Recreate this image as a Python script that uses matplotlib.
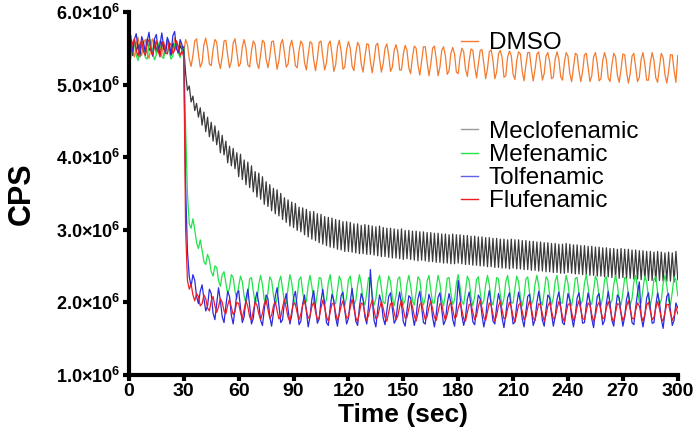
import numpy as np
import matplotlib
matplotlib.use("Agg")
import matplotlib.pyplot as plt
from matplotlib.ticker import FuncFormatter
from matplotlib.lines import Line2D

plt.rcParams['font.family'] = ['Liberation Sans', 'DejaVu Sans']
plt.rcParams['mathtext.fontset'] = 'custom'
plt.rcParams['mathtext.rm'] = 'Liberation Sans:bold'
plt.rcParams['mathtext.bf'] = 'Liberation Sans:bold'

# time axis, one reading per second (0..300 s)
time_sec = np.arange(0, 301)

# CPS readings in millions
dmso = [
    5.52, 5.60, 5.45, 5.38, 5.55, 5.65, 5.48, 5.40, 5.58, 5.62,
    5.44, 5.36, 5.50, 5.63, 5.57, 5.42, 5.47, 5.60, 5.52, 5.39,
    5.46, 5.61, 5.55, 5.41, 5.49, 5.64, 5.53, 5.43, 5.58, 5.50,
    5.45, 5.62, 5.55, 5.35, 5.25, 5.40, 5.60, 5.63, 5.42, 5.24,
    5.30, 5.55, 5.64, 5.50, 5.28, 5.26, 5.48, 5.62, 5.58, 5.33,
    5.22, 5.38, 5.60, 5.61, 5.40, 5.23, 5.32, 5.57, 5.63, 5.45,
    5.25, 5.29, 5.52, 5.62, 5.50, 5.27, 5.24, 5.46, 5.60, 5.55,
    5.30, 5.22, 5.42, 5.61, 5.58, 5.35, 5.23, 5.38, 5.59, 5.60,
    5.40, 5.21, 5.33, 5.56, 5.62, 5.44, 5.24, 5.28, 5.52, 5.61,
    5.48, 5.26, 5.23, 5.47, 5.60, 5.55, 5.30, 5.20, 5.41, 5.59,
    5.57, 5.34, 5.19, 5.36, 5.58, 5.60, 5.38, 5.20, 5.30, 5.55,
    5.60, 5.42, 5.18, 5.27, 5.52, 5.61, 5.46, 5.21, 5.24, 5.48,
    5.59, 5.50, 5.25, 5.19, 5.43, 5.58, 5.53, 5.28, 5.17, 5.38,
    5.56, 5.55, 5.32, 5.16, 5.33, 5.54, 5.57, 5.36, 5.17, 5.29,
    5.50, 5.56, 5.40, 5.18, 5.24, 5.47, 5.55, 5.44, 5.20, 5.20,
    5.42, 5.54, 5.47, 5.23, 5.15, 5.38, 5.53, 5.50, 5.27, 5.13,
    5.33, 5.52, 5.52, 5.31, 5.12, 5.28, 5.50, 5.53, 5.35, 5.12,
    5.24, 5.47, 5.52, 5.39, 5.14, 5.19, 5.43, 5.51, 5.42, 5.17,
    5.15, 5.38, 5.50, 5.45, 5.21, 5.11, 5.33, 5.49, 5.47, 5.25,
    5.09, 5.28, 5.47, 5.48, 5.29, 5.08, 5.22, 5.45, 5.48, 5.33,
    5.08, 5.17, 5.42, 5.47, 5.37, 5.10, 5.12, 5.38, 5.46, 5.40,
    5.14, 5.07, 5.33, 5.45, 5.42, 5.18, 5.05, 5.27, 5.44, 5.44,
    5.22, 5.05, 5.21, 5.42, 5.45, 5.27, 5.06, 5.15, 5.39, 5.44,
    5.31, 5.08, 5.10, 5.35, 5.45, 5.35, 5.11, 5.06, 5.30, 5.44,
    5.39, 5.15, 5.04, 5.24, 5.43, 5.41, 5.19, 5.04, 5.18, 5.41,
    5.43, 5.24, 5.04, 5.12, 5.38, 5.44, 5.29, 5.05, 5.08, 5.33,
    5.44, 5.34, 5.09, 5.04, 5.27, 5.43, 5.38, 5.13, 5.03, 5.21,
    5.42, 5.41, 5.18, 5.02, 5.15, 5.39, 5.43, 5.23, 5.04, 5.10,
    5.35, 5.44, 5.28, 5.06, 5.06, 5.30, 5.44, 5.33, 5.09, 5.03,
    5.24, 5.43, 5.37, 5.14, 5.02, 5.18, 5.41, 5.41, 5.19, 5.03,
    5.40,
]

meclofenamic = [
    5.48, 5.58, 5.40, 5.62, 5.45, 5.55, 5.38, 5.60, 5.50, 5.42,
    5.63, 5.47, 5.52, 5.39, 5.61, 5.46, 5.56, 5.41, 5.59, 5.49,
    5.44, 5.62, 5.50, 5.40, 5.57, 5.48, 5.60, 5.43, 5.54, 5.47,
    5.52, 5.15, 4.92, 4.98, 4.76, 4.84, 4.64, 4.74, 4.55, 4.68,
    4.44, 4.62, 4.35, 4.55, 4.28, 4.48, 4.22, 4.43, 4.17, 4.36,
    4.06, 4.30, 4.03, 4.22, 3.92, 4.15, 3.88, 4.12, 3.84, 4.06,
    3.73, 4.04, 3.69, 3.96, 3.62, 3.93, 3.58, 3.88, 3.52, 3.80,
    3.45, 3.78, 3.42, 3.73, 3.35, 3.66, 3.32, 3.62, 3.26, 3.57,
    3.22, 3.55, 3.19, 3.50, 3.14, 3.44, 3.10, 3.41, 3.05, 3.38,
    3.03, 3.36, 2.99, 3.31, 2.97, 3.30, 2.93, 3.28, 2.90, 3.25,
    2.87, 3.25, 2.85, 3.22, 2.82, 3.21, 2.80, 3.18, 2.78, 3.17,
    2.76, 3.16, 2.75, 3.14, 2.73, 3.13, 2.72, 3.11, 2.70, 3.11,
    2.70, 3.10, 2.69, 3.08, 2.68, 3.08, 2.67, 3.06, 2.67, 3.07,
    2.66, 3.06, 2.66, 3.05, 2.65, 3.04, 2.64, 3.05, 2.63, 3.03,
    2.63, 3.02, 2.62, 3.02, 2.61, 3.01, 2.61, 3.00, 2.60, 3.01,
    2.59, 2.99, 2.60, 2.99, 2.59, 2.98, 2.58, 2.98, 2.57, 2.97,
    2.58, 2.97, 2.57, 2.96, 2.56, 2.96, 2.56, 2.95, 2.55, 2.95,
    2.55, 2.94, 2.54, 2.94, 2.54, 2.93, 2.53, 2.94, 2.53, 2.93,
    2.54, 2.93, 2.53, 2.92, 2.52, 2.92, 2.52, 2.91, 2.51, 2.91,
    2.51, 2.90, 2.50, 2.90, 2.50, 2.89, 2.49, 2.89, 2.49, 2.88,
    2.48, 2.88, 2.48, 2.87, 2.47, 2.87, 2.47, 2.86, 2.46, 2.87,
    2.47, 2.86, 2.46, 2.86, 2.46, 2.85, 2.45, 2.85, 2.45, 2.84,
    2.44, 2.84, 2.44, 2.83, 2.43, 2.83, 2.43, 2.82, 2.42, 2.82,
    2.42, 2.81, 2.41, 2.81, 2.41, 2.80, 2.40, 2.80, 2.40, 2.81,
    2.41, 2.80, 2.40, 2.79, 2.39, 2.79, 2.39, 2.78, 2.38, 2.78,
    2.38, 2.77, 2.37, 2.77, 2.37, 2.76, 2.36, 2.76, 2.36, 2.75,
    2.35, 2.75, 2.35, 2.74, 2.34, 2.74, 2.34, 2.73, 2.33, 2.74,
    2.34, 2.73, 2.33, 2.73, 2.33, 2.72, 2.32, 2.72, 2.32, 2.71,
    2.31, 2.71, 2.31, 2.70, 2.30, 2.70, 2.30, 2.69, 2.29, 2.70,
    2.30, 2.69, 2.29, 2.68, 2.29, 2.69, 2.29, 2.68, 2.28, 2.70,
    2.31,
]

mefenamic = [
    5.42, 5.36, 5.50, 5.58, 5.40, 5.33, 5.47, 5.60, 5.52, 5.37,
    5.35, 5.55, 5.62, 5.44, 5.34, 5.41, 5.57, 5.53, 5.38, 5.36,
    5.52, 5.61, 5.45, 5.35, 5.39, 5.56, 5.58, 5.43, 5.37, 5.48,
    5.50, 4.40, 3.50, 3.08, 3.02, 3.15, 3.00, 2.82, 2.74, 2.86,
    2.72, 2.56, 2.52, 2.66, 2.58, 2.42, 2.36, 2.50, 2.48, 2.30,
    2.22, 2.38, 2.42, 2.26, 2.12, 2.20, 2.38, 2.34, 2.15, 2.05,
    2.22, 2.36, 2.28, 2.08, 1.98, 2.10, 2.32, 2.34, 2.15, 1.99,
    2.02, 2.25, 2.37, 2.24, 2.03, 1.97, 2.14, 2.35, 2.30, 2.10,
    1.96, 2.05, 2.28, 2.36, 2.18, 2.00, 1.98, 2.20, 2.38, 2.27,
    2.06, 1.95, 2.08, 2.31, 2.35, 2.14, 1.98, 2.01, 2.24, 2.37,
    2.22, 2.02, 1.96, 2.12, 2.34, 2.33, 2.11, 1.97, 2.04, 2.27,
    2.38, 2.19, 1.99, 1.98, 2.17, 2.36, 2.29, 2.07, 1.95, 2.08,
    2.31, 2.36, 2.15, 1.97, 2.02, 2.23, 2.38, 2.25, 2.03, 1.96,
    2.13, 2.34, 2.32, 2.10, 1.96, 2.05, 2.28, 2.37, 2.20, 2.00,
    1.98, 2.18, 2.36, 2.28, 2.06, 1.95, 2.09, 2.32, 2.35, 2.13,
    1.97, 2.03, 2.25, 2.37, 2.23, 2.02, 1.96, 2.14, 2.35, 2.31,
    2.09, 1.96, 2.06, 2.29, 2.37, 2.17, 1.99, 1.99, 2.20, 2.37,
    2.26, 2.04, 1.95, 2.11, 2.33, 2.34, 2.12, 1.97, 2.03, 2.26,
    2.38, 2.21, 2.01, 1.97, 2.16, 2.36, 2.29, 2.07, 1.95, 2.08,
    2.31, 2.35, 2.14, 1.97, 2.02, 2.24, 2.37, 2.24, 2.02, 1.96,
    2.13, 2.34, 2.32, 2.10, 1.96, 2.05, 2.28, 2.37, 2.19, 1.99,
    1.99, 2.19, 2.36, 2.28, 2.06, 1.95, 2.09, 2.32, 2.35, 2.13,
    1.97, 2.03, 2.25, 2.37, 2.23, 2.02, 1.96, 2.14, 2.35, 2.31,
    2.09, 1.96, 2.06, 2.29, 2.37, 2.17, 1.99, 1.99, 2.20, 2.37,
    2.26, 2.04, 1.95, 2.11, 2.33, 2.34, 2.12, 1.97, 2.03, 2.26,
    2.38, 2.21, 2.01, 1.97, 2.16, 2.36, 2.29, 2.07, 1.95, 2.08,
    2.31, 2.35, 2.14, 1.97, 2.02, 2.24, 2.37, 2.24, 2.02, 1.96,
    2.13, 2.34, 2.32, 2.10, 1.96, 2.05, 2.28, 2.37, 2.19, 1.99,
    1.99, 2.19, 2.36, 2.28, 2.06, 1.95, 2.09, 2.32, 2.35, 2.13,
    1.97, 2.03, 2.25, 2.37, 2.23, 2.02, 1.96, 2.14, 2.35, 2.31,
    2.09,
]

tolfenamic = [
    5.55, 5.68, 5.45, 5.62, 5.70, 5.50, 5.42, 5.66, 5.58, 5.44,
    5.60, 5.72, 5.48, 5.40, 5.63, 5.69, 5.46, 5.55, 5.71, 5.52,
    5.43, 5.65, 5.58, 5.41, 5.67, 5.73, 5.49, 5.44, 5.62, 5.55,
    5.45, 3.60, 2.70, 2.35, 2.22, 2.38, 2.30, 2.08, 1.98, 2.15,
    2.24, 2.05, 1.88, 1.95, 2.18, 2.12, 1.85, 1.76, 1.98, 2.20,
    2.02, 1.80, 1.72, 1.95, 2.15, 2.08, 1.82, 1.70, 1.90, 2.12,
    2.16, 1.92, 1.72, 1.80, 2.05, 2.18, 1.95, 1.70, 1.78, 2.02,
    2.14, 1.98, 1.75, 1.68, 1.90, 2.10, 2.05, 1.80, 1.67, 1.85,
    2.08, 2.20, 1.96, 1.72, 1.76, 2.00, 2.12, 1.90, 1.70, 1.82,
    2.06, 2.15, 1.93, 1.69, 1.74, 1.98, 2.10, 1.88, 1.66, 1.80,
    2.04, 2.16, 1.94, 1.71, 1.77, 2.02, 2.18, 1.97, 1.72, 1.68,
    1.92, 2.11, 2.03, 1.79, 1.67, 1.86, 2.09, 2.14, 1.89, 1.70,
    1.78, 2.01, 2.19, 1.99, 1.74, 1.68, 1.93, 2.12, 2.04, 1.80,
    1.70, 1.95, 2.45, 2.05, 1.75, 1.66, 1.90, 2.10, 2.00, 1.78,
    1.69, 1.88, 2.08, 2.13, 1.91, 1.71, 1.76, 1.99, 2.14, 1.97,
    1.73, 1.67, 1.89, 2.09, 2.06, 1.83, 1.68, 1.81, 2.05, 2.15,
    1.94, 1.72, 1.70, 1.93, 2.11, 2.02, 1.79, 1.66, 1.84, 2.07,
    2.13, 1.90, 1.69, 1.75, 1.98, 2.12, 1.99, 1.76, 1.67, 1.92,
    2.30, 2.08, 1.81, 1.68, 1.80, 2.04, 2.14, 1.95, 1.73, 1.69,
    1.91, 2.10, 2.05, 1.82, 1.66, 1.79, 2.03, 2.16, 1.96, 1.74,
    1.70, 1.94, 2.12, 2.01, 1.78, 1.65, 1.83, 2.06, 2.13, 1.91,
    1.70, 1.73, 1.97, 2.14, 2.00, 1.77, 1.66, 1.87, 2.08, 2.11,
    1.88, 1.68, 1.76, 2.00, 2.15, 1.98, 1.75, 1.67, 1.90, 2.10,
    2.06, 1.84, 1.67, 1.80, 2.04, 2.14, 1.94, 1.72, 1.69, 1.93,
    2.12, 2.03, 1.80, 1.66, 1.82, 2.06, 2.13, 1.92, 1.71, 1.72,
    1.96, 2.13, 2.00, 1.77, 1.65, 1.86, 2.08, 2.12, 1.89, 1.69,
    1.75, 1.99, 2.15, 1.98, 1.75, 1.67, 1.90, 2.10, 2.06, 1.84,
    1.67, 1.80, 2.04, 2.14, 1.94, 1.72, 1.69, 1.93, 2.12, 2.28,
    1.80, 1.66, 1.82, 2.06, 2.13, 1.92, 1.71, 1.72, 1.96, 2.13,
    2.00, 1.77, 1.64, 1.86, 2.08, 2.12, 1.89, 1.68, 1.75, 1.99,
    1.92,
]

flufenamic = [
    5.50, 5.42, 5.58, 5.63, 5.47, 5.39, 5.55, 5.61, 5.45, 5.40,
    5.57, 5.62, 5.48, 5.41, 5.52, 5.60, 5.46, 5.38, 5.56, 5.59,
    5.44, 5.42, 5.58, 5.55, 5.43, 5.47, 5.60, 5.52, 5.40, 5.46,
    5.38, 3.00, 2.30, 2.18, 2.25, 2.10, 2.02, 2.12, 2.08, 1.95,
    1.98, 2.10, 2.05, 1.92, 1.88, 2.02, 2.08, 1.95, 1.86, 1.94,
    2.05, 2.00, 1.88, 1.84, 1.96, 2.04, 1.93, 1.83, 1.88, 2.00,
    1.98, 1.86, 1.78, 1.90, 2.02, 1.94, 1.80, 1.75, 1.88, 2.00,
    1.96, 1.84, 1.76, 1.85, 1.98, 2.03, 1.90, 1.78, 1.82, 1.95,
    2.01, 1.88, 1.77, 1.80, 1.93, 2.04, 1.92, 1.79, 1.74, 1.87,
    1.99, 1.97, 1.85, 1.76, 1.84, 1.96, 2.02, 1.89, 1.78, 1.81,
    1.94, 2.00, 1.87, 1.76, 1.79, 1.92, 2.03, 1.93, 1.80, 1.74,
    1.86, 1.98, 1.98, 1.85, 1.75, 1.83, 1.95, 2.02, 1.90, 1.78,
    1.80, 1.93, 2.04, 1.91, 1.79, 1.73, 1.86, 1.99, 1.97, 1.84,
    1.75, 1.82, 1.95, 2.03, 1.89, 1.77, 1.80, 1.92, 2.01, 1.92,
    1.79, 1.74, 1.86, 1.98, 1.99, 1.86, 1.76, 1.81, 1.94, 2.03,
    1.90, 1.78, 1.79, 1.91, 2.02, 1.94, 1.81, 1.74, 1.85, 1.97,
    1.99, 1.87, 1.76, 1.80, 1.93, 2.02, 1.91, 1.79, 1.75, 1.87,
    1.98, 1.97, 1.85, 1.75, 1.83, 1.95, 2.01, 1.90, 1.78, 1.80,
    1.92, 2.00, 1.89, 1.77, 1.74, 1.86, 1.97, 1.98, 1.86, 1.76,
    1.81, 1.94, 2.02, 1.92, 1.79, 1.75, 1.87, 1.99, 1.96, 1.83,
    1.74, 1.82, 1.95, 2.01, 1.89, 1.77, 1.79, 1.91, 2.00, 1.93,
    1.80, 1.73, 1.84, 1.96, 1.99, 1.87, 1.76, 1.80, 1.93, 2.02,
    1.91, 1.78, 1.75, 1.87, 1.98, 1.96, 1.84, 1.74, 1.82, 1.95,
    2.00, 1.88, 1.77, 1.79, 1.91, 2.01, 1.93, 1.80, 1.73, 1.85,
    1.97, 1.98, 1.86, 1.75, 1.81, 1.94, 2.02, 1.90, 1.78, 1.76,
    1.88, 1.99, 1.96, 1.83, 1.74, 1.82, 1.95, 2.00, 1.88, 1.77,
    1.79, 1.92, 2.01, 1.92, 1.79, 1.73, 1.86, 1.98, 1.97, 1.85,
    1.75, 1.81, 1.94, 2.02, 1.90, 1.78, 1.77, 1.89, 1.99, 1.95,
    1.82, 1.74, 1.83, 1.96, 2.00, 1.88, 1.76, 1.79, 1.92, 2.01,
    1.91, 1.78, 1.74, 1.86, 1.97, 1.97, 1.85, 1.75, 1.81, 1.93,
    1.84,
]

series_names = ['DMSO', 'Meclofenamic', 'Mefenamic', 'Tolfenamic', 'Flufenamic']
series_colors = ['#F47A2E', '#3A3A3A', '#22E34A', '#2B2BE0', '#EE1C24']
handle_colors = ['#F47A2E', '#9A9A9A', '#22E34A', '#6060E8', '#EE1C24']

fig = plt.figure(figsize=(6.93, 4.42), dpi=100)
ax = fig.add_axes([0.186, 0.152, 0.792, 0.821])

all_series = [dmso, meclofenamic, mefenamic, tolfenamic, flufenamic]
for vals, name, col in zip(all_series, series_names, series_colors):
    ax.plot(time_sec, np.array(vals) * 1e6, color=col, lw=0.9, label=name)

ax.set_xlim(0, 300)
ax.set_ylim(1e6, 6e6)
ax.set_xticks(range(0, 301, 30))
ax.set_yticks([1e6, 2e6, 3e6, 4e6, 5e6, 6e6])
ax.yaxis.set_major_formatter(FuncFormatter(lambda v, p: r'$\mathbf{%.1f{\times}10^{6}}$' % (v / 1e6)))

for side in ['top', 'right']:
    ax.spines[side].set_visible(False)
for side in ['left', 'bottom']:
    ax.spines[side].set_linewidth(3)
ax.tick_params(direction='out', length=4, width=3, labelsize=13, pad=2)
for lbl in ax.get_xticklabels():
    lbl.set_fontweight('bold')
    lbl.set_fontsize(14)

ax.set_xlabel('Time (sec)', fontsize=19, fontweight='bold', labelpad=2)
ax.set_ylabel('CPS', fontsize=22, fontweight='bold', labelpad=14)

# two legend blocks: DMSO alone at top, the drugs below
h_dmso = [Line2D([], [], color=handle_colors[0], lw=1)]
leg1 = ax.legend(h_dmso, series_names[:1], loc='upper left', bbox_to_anchor=(0.605, 0.944),
                 frameon=False, fontsize=17.5, handlelength=0.7, handletextpad=0.45,
                 borderaxespad=0, borderpad=0)
ax.add_artist(leg1)
h_rest = [Line2D([], [], color=c, lw=1) for c in handle_colors[1:]]
ax.legend(h_rest, series_names[1:], loc='upper left', bbox_to_anchor=(0.605, 0.70),
          frameon=False, fontsize=17.5, handlelength=0.7, handletextpad=0.45,
          labelspacing=0.05, borderaxespad=0, borderpad=0)

fig.savefig('out.png', dpi=100)
